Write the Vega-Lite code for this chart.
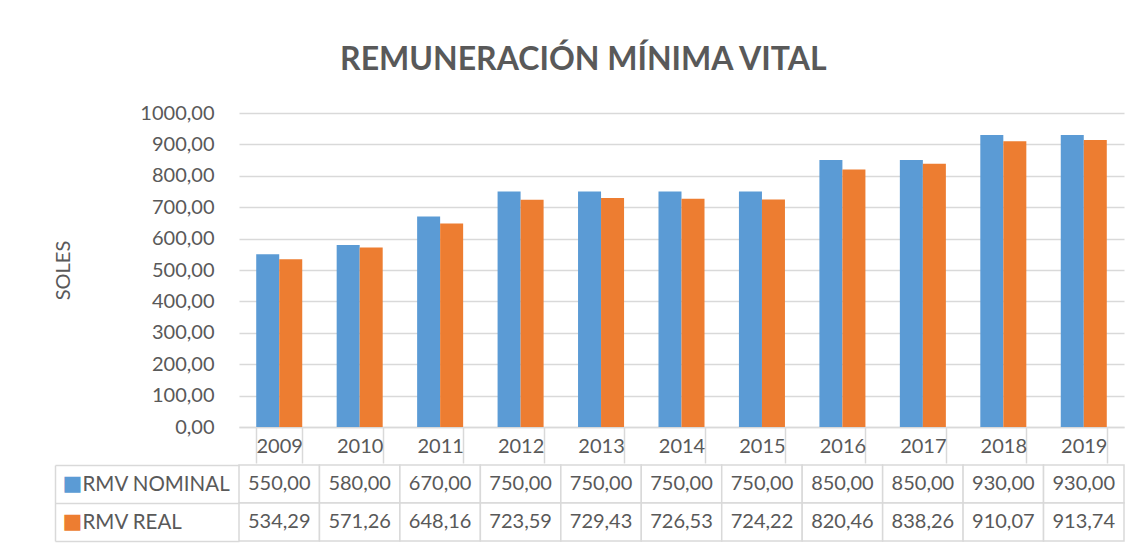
{
  "$schema": "https://vega.github.io/schema/vega-lite/v6.json",
  "padding": {"left": 53, "top": 44, "right": 10, "bottom": 5},
  "background": "white",
  "config": {
    "locale": {"number": {"decimal": ",", "thousands": ".", "grouping": [3], "currency": ["S/", ""]}},
    "font": "Lato",
    "view": {"stroke": null}
  },
  "title": {
    "text": "REMUNERACIÓN MÍNIMA VITAL",
    "font": "Lato",
    "fontSize": 32,
    "fontWeight": "bold",
    "color": "#595959",
    "anchor": "middle",
    "dx": -6,
    "offset": 26
  },
  "data": {
    "values": [
      {"year": "2009", "serie": "RMV NOMINAL", "value": 550.00},
      {"year": "2010", "serie": "RMV NOMINAL", "value": 580.00},
      {"year": "2011", "serie": "RMV NOMINAL", "value": 670.00},
      {"year": "2012", "serie": "RMV NOMINAL", "value": 750.00},
      {"year": "2013", "serie": "RMV NOMINAL", "value": 750.00},
      {"year": "2014", "serie": "RMV NOMINAL", "value": 750.00},
      {"year": "2015", "serie": "RMV NOMINAL", "value": 750.00},
      {"year": "2016", "serie": "RMV NOMINAL", "value": 850.00},
      {"year": "2017", "serie": "RMV NOMINAL", "value": 850.00},
      {"year": "2018", "serie": "RMV NOMINAL", "value": 930.00},
      {"year": "2019", "serie": "RMV NOMINAL", "value": 930.00},
      {"year": "2009", "serie": "RMV REAL", "value": 534.29},
      {"year": "2010", "serie": "RMV REAL", "value": 571.26},
      {"year": "2011", "serie": "RMV REAL", "value": 648.16},
      {"year": "2012", "serie": "RMV REAL", "value": 723.59},
      {"year": "2013", "serie": "RMV REAL", "value": 729.43},
      {"year": "2014", "serie": "RMV REAL", "value": 726.53},
      {"year": "2015", "serie": "RMV REAL", "value": 724.22},
      {"year": "2016", "serie": "RMV REAL", "value": 820.46},
      {"year": "2017", "serie": "RMV REAL", "value": 838.26},
      {"year": "2018", "serie": "RMV REAL", "value": 910.07},
      {"year": "2019", "serie": "RMV REAL", "value": 913.74}
    ]
  },
  "spacing": -9,
  "vconcat": [
    {
      "width": 885,
      "height": 314,
      "mark": {"type": "bar"},
      "encoding": {
        "x": {
          "field": "year", "type": "ordinal",
          "scale": {"paddingInner": 0.428, "paddingOuter": 0.214},
          "axis": {
            "title": null, "labelAngle": 0, "labelFontSize": 20, "labelColor": "#595959",
            "labelBaseline": "middle", "labelPadding": -17,
            "domain": true, "domainColor": "#d9d9d9", "domainWidth": 1.5,
            "ticks": true, "tickBand": "extent", "tickSize": 36, "tickColor": "#d9d9d9", "tickWidth": 1.5,
            "grid": false
          }
        },
        "xOffset": {"field": "serie", "sort": ["RMV NOMINAL", "RMV REAL"]},
        "y": {
          "field": "value", "type": "quantitative",
          "scale": {"domain": [0, 1000]},
          "axis": {
            "values": [0, 100, 200, 300, 400, 500, 600, 700, 800, 900, 1000],
            "labelExpr": "replace(format(datum.value, '.2f'), '.', ',')",
            "title": "SOLES", "titleFontSize": 20, "titleFontWeight": "normal", "titleColor": "#595959",
            "titlePadding": 66,
            "labelFontSize": 20, "labelColor": "#595959", "labelPadding": 25,
            "domain": false, "ticks": false,
            "grid": true, "gridColor": "#d9d9d9", "gridWidth": 1.5
          }
        },
        "color": {
          "field": "serie", "type": "nominal",
          "scale": {"domain": ["RMV NOMINAL", "RMV REAL"], "range": ["#5b9bd5", "#ed7d31"]},
          "legend": null
        }
      }
    },
    {
      "width": 885,
      "height": 76,
      "resolve": {"axis": {"y": "independent"}},
      "layer": [
        {
          "mark": {"type": "rect", "fill": "white", "stroke": "#d9d9d9", "strokeWidth": 1.5},
          "encoding": {
            "x": {"field": "year", "type": "ordinal", "scale": {"paddingInner": 0, "paddingOuter": 0}, "axis": null},
            "y": {
              "field": "serie", "type": "nominal",
              "scale": {"paddingInner": 0, "paddingOuter": 0},
              "axis": {
                "orient": "left", "title": null, "domain": false,
                "ticks": true, "tickBand": "extent", "tickSize": 184, "tickColor": "#d9d9d9", "tickWidth": 1.5,
                "labelAlign": "left", "labelPadding": -27, "labelFontSize": 20.5, "labelColor": "#595959"
              }
            }
          }
        },
        {
          "mark": {"type": "text", "fontSize": 20, "color": "#595959"},
          "encoding": {
            "x": {"field": "year", "type": "ordinal", "axis": null},
            "y": {
              "field": "serie", "type": "nominal",
              "axis": {
                "orient": "left", "title": null, "offset": 184,
                "domain": true, "domainColor": "#d9d9d9", "domainWidth": 1.5,
                "ticks": false, "tickSize": 0,
                "labelExpr": "'■'", "labelFont": "DejaVu Sans", "labelFontSize": 21,
                "labelAlign": "left", "labelPadding": -7,
                "labelColor": {"condition": {"test": "datum.value === 'RMV NOMINAL'", "value": "#5b9bd5"}, "value": "#ed7d31"}
              }
            },
            "text": {"field": "value", "type": "quantitative", "format": ".2f"}
          }
        }
      ]
    }
  ]
}
